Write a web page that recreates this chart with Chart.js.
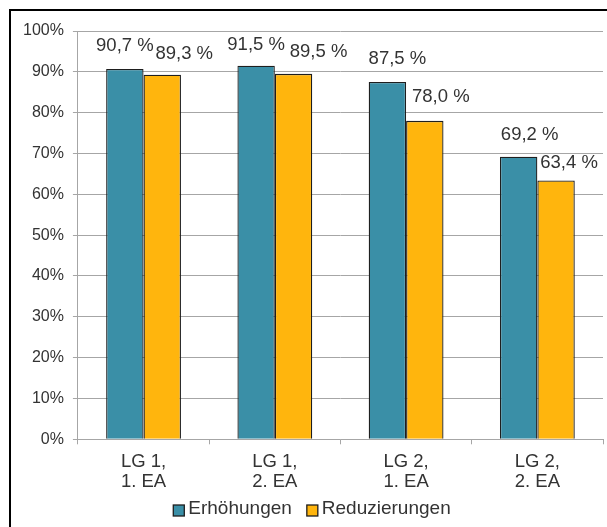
<!DOCTYPE html>
<html>
<head>
<meta charset="utf-8">
<script src="https://cdn.jsdelivr.net/npm/chart.js@4"></script>
<style>
html,body{margin:0;padding:0;background:#fff;}
#wrap{position:relative;width:607px;height:527px;overflow:hidden;}
#frame{position:absolute;left:9px;top:9px;width:700px;height:700px;border-left:2px solid #000;border-top:2px solid #000;pointer-events:none;}
canvas{position:absolute;left:0;top:0;}
</style>
</head>
<body>
<div id="wrap">
<canvas id="c" width="607" height="527"></canvas>
<div id="frame"></div>
</div>
<script>
const categories = [['LG 1,', '1. EA'], ['LG 1,', '2. EA'], ['LG 2,', '1. EA'], ['LG 2,', '2. EA']];
const seriesNames = ['Erhöhungen', 'Reduzierungen'];
const erhoehungen = [90.7, 91.5, 87.5, 69.2];
const reduzierungen = [89.3, 89.5, 78.0, 63.4];
const yTicks = [0, 10, 20, 30, 40, 50, 60, 70, 80, 90, 100];

const font = "'Liberation Sans', Arial, sans-serif";
const textColor = '#333333';

// label nudges (pixels) mimicking the original's label placement
const labelNudge = {
  dx: [[0, 0, 10, 11], [22, 25, 16, 13]],
  dy: [[23, 21, 23, 22], [21, 21.5, 24, 18]]
};

const labelPlugin = {
  id: 'valueLabels',
  afterDatasetsDraw(chart) {
    const ctx = chart.ctx;
    ctx.save();
    ctx.font = '18.5px ' + font;
    ctx.fillStyle = textColor;
    ctx.textAlign = 'center';
    ctx.textBaseline = 'middle';
    chart.data.datasets.forEach((ds, di) => {
      const meta = chart.getDatasetMeta(di);
      meta.data.forEach((bar, i) => {
        const txt = ds.data[i].toFixed(1).replace('.', ',') + ' %';
        ctx.fillText(txt, bar.x + labelNudge.dx[di][i], bar.y - labelNudge.dy[di][i]);
      });
    });
    ctx.restore();
  }
};

const legendPlugin = {
  id: 'bottomLegend',
  afterDraw(chart) {
    const ctx = chart.ctx;
    ctx.save();
    ctx.font = '19px ' + font;
    ctx.textBaseline = 'middle';
    ctx.textAlign = 'left';
    const box = 11, gap = 4, spacing = 15;
    const items = chart.data.datasets.map(ds => ({ ds, w: ctx.measureText(ds.label).width }));
    let total = 0;
    items.forEach((it, i) => { total += box + gap + it.w + (i < items.length - 1 ? spacing : 0); });
    const cy = 509;
    let x = 312 - total / 2;
    items.forEach(it => {
      ctx.fillStyle = it.ds.backgroundColor;
      ctx.fillRect(x, cy + 1.5 - box / 2, box, box);
      ctx.strokeStyle = '#1e1e1e';
      ctx.lineWidth = 1.3;
      ctx.strokeRect(x, cy + 1.5 - box / 2, box, box);
      ctx.fillStyle = textColor;
      ctx.fillText(it.ds.label, x + box + gap, cy);
      x += box + gap + it.w + spacing;
    });
    ctx.restore();
  }
};

new Chart(document.getElementById('c'), {
  type: 'bar',
  data: {
    labels: categories,
    datasets: [
      { label: seriesNames[0], data: erhoehungen, backgroundColor: '#3A8FA7', borderColor: '#1e1e1e', borderWidth: 1.3, borderSkipped: 'bottom' },
      { label: seriesNames[1], data: reduzierungen, backgroundColor: '#FFB50D', borderColor: '#1e1e1e', borderWidth: 1.3, borderSkipped: 'bottom' }
    ]
  },
  options: {
    responsive: false,
    animation: false,
    devicePixelRatio: 1,
    layout: { padding: { left: 14, right: 4, top: 31, bottom: 28 } },
    datasets: { bar: { categoryPercentage: 0.57, barPercentage: 1.0 } },
    plugins: {
      legend: { display: false },
      tooltip: { enabled: false }
    },
    scales: {
      x: {
        grid: { drawOnChartArea: false, drawTicks: true, tickLength: 5, color: '#a6a6a6', offset: true },
        border: { color: '#a6a6a6', width: 1 },
        ticks: { font: { family: font, size: 18.5, lineHeight: 1.1 }, color: textColor, padding: 7, maxRotation: 0 }
      },
      y: {
        min: 0, max: 100,
        afterBuildTicks(axis) { axis.ticks = yTicks.map(v => ({ value: v })); },
        grid: { color: '#a6a6a6', tickLength: 5, lineWidth: 1 },
        border: { color: '#a6a6a6', width: 1 },
        ticks: { font: { family: font, size: 16 }, color: textColor, padding: 9, callback: v => v + '%' }
      }
    }
  },
  plugins: [labelPlugin, legendPlugin]
});
</script>
</body>
</html>
